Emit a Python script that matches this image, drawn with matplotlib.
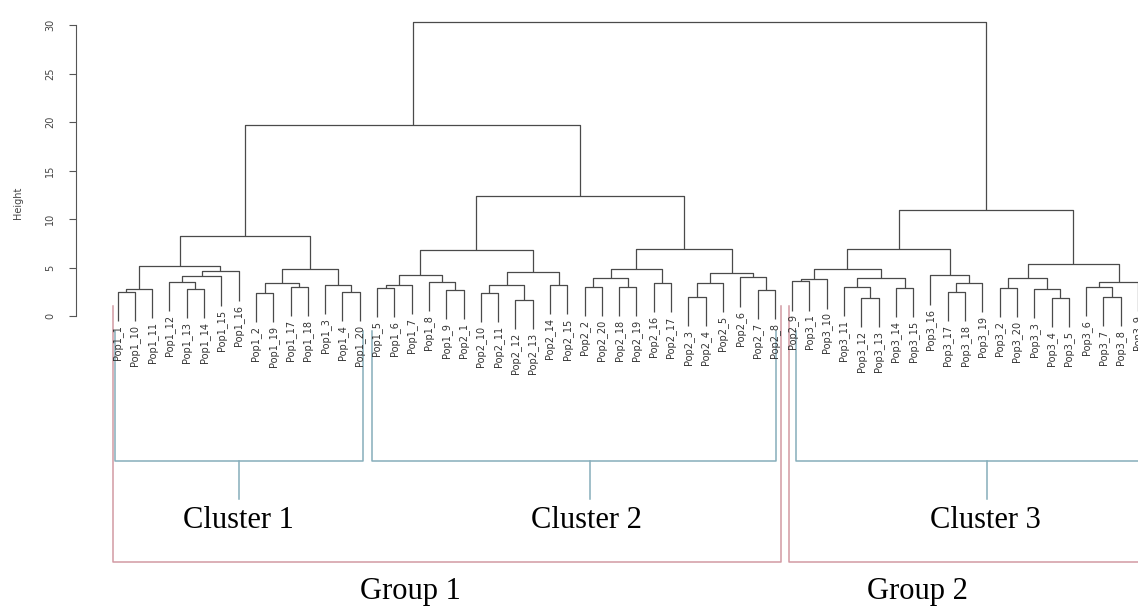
import matplotlib.pyplot as plt

# leaf labels in plotting order
labels = ['Pop1_1', 'Pop1_10', 'Pop1_11', 'Pop1_12', 'Pop1_13', 'Pop1_14', 'Pop1_15', 'Pop1_16',
          'Pop1_2', 'Pop1_19', 'Pop1_17', 'Pop1_18', 'Pop1_3', 'Pop1_4', 'Pop1_20',
          'Pop1_5', 'Pop1_6', 'Pop1_7', 'Pop1_8', 'Pop1_9', 'Pop2_1', 'Pop2_10', 'Pop2_11',
          'Pop2_12', 'Pop2_13', 'Pop2_14', 'Pop2_15', 'Pop2_2', 'Pop2_20', 'Pop2_18', 'Pop2_19',
          'Pop2_16', 'Pop2_17', 'Pop2_3', 'Pop2_4', 'Pop2_5', 'Pop2_6', 'Pop2_7', 'Pop2_8',
          'Pop2_9', 'Pop3_1', 'Pop3_10', 'Pop3_11', 'Pop3_12', 'Pop3_13', 'Pop3_14', 'Pop3_15',
          'Pop3_16', 'Pop3_17', 'Pop3_18', 'Pop3_19', 'Pop3_2', 'Pop3_20', 'Pop3_3', 'Pop3_4',
          'Pop3_5', 'Pop3_6', 'Pop3_7', 'Pop3_8', 'Pop3_9']

# merge table, R style: -k = leaf k (1-based), +j = merge j
merge_a = [-1, 1, -5, -4, 4, 5, 2, -9, -11, 8, -14, -13, 10, 7,
           -16, 15, -20, -19, 16, -22, -24, 20, -26, 22, 19, -28, -30, 26, -32, 28,
           -34, 31, -38, -37, 32, 30, 25, 14,
           -40, 39, -44, -43, -46, 42, 40, -49, 46, -48, 45, -52, -55, -54, 50,
           -58, -57, 55, 53, 49, 38]
merge_b = [-2, -3, -6, 3, -7, -8, 6, -10, -12, 9, -15, 11, 12, 13,
           -17, -18, -21, 17, 18, -23, -25, 21, -27, 23, 24, -29, -31, 27, -33, 29,
           -35, -36, -39, 33, 34, 35, 36, 37,
           -41, -42, -45, 41, -47, 43, 44, -50, -51, 47, 48, -53, -56, 51, 52,
           -59, 54, -60, 56, 57, 58]
heights = [2.5, 2.8, 2.8, 3.5, 4.1, 4.6, 5.2, 2.4, 3.0, 3.4, 2.5, 3.2, 4.9, 8.3,
           2.9, 3.2, 2.7, 3.5, 4.2, 2.4, 1.7, 3.2, 3.2, 4.5, 6.8, 3.0, 3.0, 3.9, 3.4, 4.9,
           2.0, 3.4, 2.7, 4.0, 4.4, 6.9, 12.4, 19.7,
           3.6, 3.8, 1.9, 3.0, 2.9, 3.9, 4.9, 2.5, 3.4, 4.2, 6.9, 2.9, 1.9, 2.8, 3.9,
           2.0, 3.0, 3.5, 5.4, 10.9, 30.3]

# groupings drawn under the tree
cluster_names = ['Cluster 1', 'Cluster 2', 'Cluster 3']
group_names = ['Group 1', 'Group 2']

# bracket layout, in leaf-index units
cluster_edges = [(-0.17, 14.19), (14.71, 38.07), (39.22, 61.0)]
cluster_stem = [7.02, 27.31, 50.27]
cluster_text = [6.96, 27.08, 50.15]
group_edges = [(-0.29, 38.36), (38.82, 61.0)]
group_text = [16.91, 46.22]

hang = 3.03
line_col = '#4a4a4a'

fig = plt.figure(figsize=(11.38, 6.09), dpi=100)
ax = fig.add_axes([0, 0, 1, 1])
ax.set_xlim(-6.8, 59.0)
ax.set_ylim(-30.2, 32.58)

# x position / height for every merge
xpos = []
def node(k):
    if k < 0:
        return -k - 1, None
    return xpos[k - 1], heights[k - 1]

for a, b, h in zip(merge_a, merge_b, heights):
    xa, ha = node(a)
    xb, hb = node(b)
    ya = ha if ha is not None else h - hang
    yb = hb if hb is not None else h - hang
    ax.plot([xa, xa, xb, xb], [ya, h, h, yb], color=line_col, lw=0.9, solid_capstyle='butt')
    for k, x in ((a, xa), (b, xb)):
        if k < 0:
            ax.text(x, h - hang - 0.4, labels[-k - 1], rotation=90, ha='center', va='top',
                    fontsize=7, color='#333333')
    xpos.append((xa + xb) / 2)

# y axis like R base graphics
for s in ['top', 'right', 'bottom']:
    ax.spines[s].set_visible(False)
ax.spines['left'].set_position(('data', -2.42))
ax.spines['left'].set_bounds(0, 30)
ax.spines['left'].set_color('#555555')
ax.set_xticks([])
ax.set_yticks([0, 5, 10, 15, 20, 25, 30])
ax.tick_params(axis='y', length=5, color='#555555', labelsize=7, labelcolor='#444444', pad=10)
for t in ax.get_yticklabels():
    t.set_rotation(90)
    t.set_va('center')
ax.text(-5.75, 11.7, 'Height', rotation=90, ha='center', va='center', fontsize=7, color='#444444')

serif = 'Liberation Serif'

blue = '#86aebb'
for name, (x0, x1), xs, xt in zip(cluster_names, cluster_edges, cluster_stem, cluster_text):
    ax.plot([x0, x0, x1, x1], [-1.5, -14.9, -14.9, -1.5], color=blue, lw=1.1)
    ax.plot([xs, xs], [-14.9, -18.9], color=blue, lw=1.1)
    ax.text(xt, -21.1, name, ha='center', va='center', fontsize=22, family=serif)

red = '#d29aa3'
for name, (x0, x1), xt in zip(group_names, group_edges, group_text):
    ax.plot([x0, x0, x1, x1], [1.0, -25.4, -25.4, 1.0], color=red, lw=1.1)
    ax.text(xt, -28.4, name, ha='center', va='center', fontsize=22, family=serif)

fig.savefig('out.png', dpi=100)
